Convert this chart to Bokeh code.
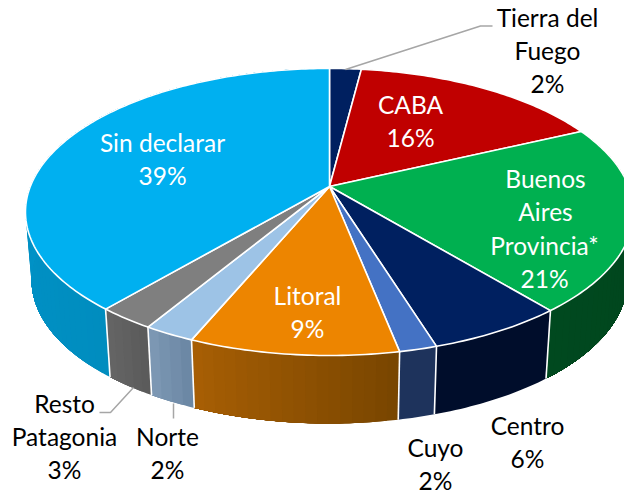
import math
from bokeh.plotting import figure
from bokeh.models import Range1d, ColumnDataSource
from bokeh.core.properties import value
from bokeh.embed import file_html
from bokeh.resources import INLINE

regions = ["Tierra del Fuego", "CABA", "Buenos Aires Provincia*", "Centro", "Cuyo",
           "Litoral", "Norte", "Resto Patagonia", "Sin declarar"]
shares = [2.0, 16.0, 21.0, 6.2, 1.7, 9.4, 2.3, 2.6, 38.8]
shown = ["2%", "16%", "21%", "6%", "2%", "9%", "2%", "3%", "39%"]

top_colors = ["#002060", "#C00000", "#00B050", "#002060", "#4472C4",
              "#ED8500", "#9DC3E6", "#7F7F7F", "#00B0F0"]
side_colors = [("#001030", "#001030"), ("#600000", "#600000"), ("#00491F", "#00431C"),
               ("#000D2B", "#000D2B"), ("#1E335C", "#1E335C"), ("#A85F04", "#784500"),
               ("#7E99B5", "#6A86A3"), ("#656565", "#5A5A5A"), ("#008DBF", "#009BD4")]
label_lines = [["Tierra del", "Fuego", "2%"], ["CABA", "16%"],
               ["Buenos", "Aires", "Provincia*", "21%"], ["Centro", "6%"], ["Cuyo", "2%"],
               ["Litoral", "9%"], ["Norte", "2%"], ["Resto", "Patagonia", "3%"],
               ["Sin declarar", "39%"]]
label_x = [[547, 547, 547], [410, 410], [545, 545, 544, 544], [527, 527], [435, 435],
           [307, 307], [167, 167], [64, 64, 64], [162, 162]]
label_y = [[17, 50, 83], [104, 137], [178, 211, 245, 278], [425, 458], [447, 480],
           [295, 328], [436, 469], [403, 436, 469], [142, 175]]
label_col = ["#000000", "#FFFFFF", "#FFFFFF", "#000000", "#000000",
             "#FFFFFF", "#000000", "#000000", "#FFFFFF"]
leaders_x = [[345, 480, 492], [133, 110, 99], [173, 173]]
leaders_y = [[69, 25.5, 25.5], [387, 412, 412], [403, 418]]

CX, CY, A, B, K = 329.0, 186.0, 299.2, 139.0, 0.1776
DEPTH, SHRINK = 68.0, 0.98


def rim(share):
    t = 2 * math.pi * share / 100
    X, Y = math.sin(t), -math.cos(t)
    d = 1 - K * Y
    return CX + A * X / d, CY + B * Y / d


def low(pt):
    return CX + (pt[0] - CX) * SHRINK, pt[1] + DEPTH


def mix(c0, c1, f):
    a = [int(c0[i:i + 2], 16) for i in (1, 3, 5)]
    b = [int(c1[i:i + 2], 16) for i in (1, 3, 5)]
    return "#%02X%02X%02X" % tuple(round(u + (v - u) * f) for u, v in zip(a, b))


p = figure(width=624, height=494, output_backend="svg", toolbar_location=None,
           x_range=Range1d(0, 624), y_range=Range1d(494, 0),
           x_axis_type=None, y_axis_type=None, min_border=0,
           background_fill_color="#FFFFFF", border_fill_color="#FFFFFF")
p.outline_line_color = None
p.grid.visible = False

# side strips: each one runs on to the end of its slice, the next paints over it
sx, sy, sc = [], [], []
start = 0.0
cuts = [0.0]
for s, (c0, c1) in zip(shares, side_colors):
    n = max(4, int(s * 2)) if c0 != c1 else 1
    fine = max(8, int(s * 4))
    for i in range(n):
        lo = start + s * i / n
        steps = [lo + (start + s - lo) * j / fine for j in range(fine + 1)]
        uppers = [rim(v) for v in steps]
        lowers = [low(q) for q in uppers]
        first, last = rim(start), rim(start + s)
        f = (i + 0.5) / n
        if first[0] > last[0]:
            f = 1 - f
        poly = uppers + lowers[::-1]
        sx.append([q[0] for q in poly])
        sy.append([q[1] for q in poly])
        sc.append(mix(c0, c1, f))
    start += s
    cuts.append(start)
p.patches(xs="x", ys="y", source=ColumnDataSource(dict(x=sx, y=sy, c=sc)),
          fill_color="c", line_color=None)

# white seams on the visible side
vx, vy = [], []
for c in cuts[:-1]:
    pt = rim(c)
    if pt[1] > 240:
        q = low(pt)
        vx.append([pt[0], q[0]])
        vy.append([pt[1], q[1]])
p.multi_line(xs=vx, ys=vy, line_color="#FFFFFF", line_width=1.6)

# top face
tx, ty, tc = [], [], []
start = 0.0
for s, col in zip(shares, top_colors):
    n = max(6, int(s * 4))
    pts = [rim(start + s * i / n) for i in range(n + 1)]
    tx.append([CX] + [q[0] for q in pts])
    ty.append([CY] + [q[1] for q in pts])
    tc.append(col)
    start += s
p.patches(xs="x", ys="y", source=ColumnDataSource(dict(x=tx, y=ty, c=tc)),
          fill_color="c", line_color="#FFFFFF", line_width=1.6, line_join="round")

p.multi_line(xs=leaders_x, ys=leaders_y, line_color="#A6A6A6", line_width=1.5)

for lines, xs, ys, col in zip(label_lines, label_x, label_y, label_col):
    p.text(x=xs, y=ys, text=lines, text_color=col, text_font=value("Lato"),
           text_font_size="24.5px", text_align="center", text_baseline="middle")

open("out.html", "w").write(file_html(p, INLINE))
